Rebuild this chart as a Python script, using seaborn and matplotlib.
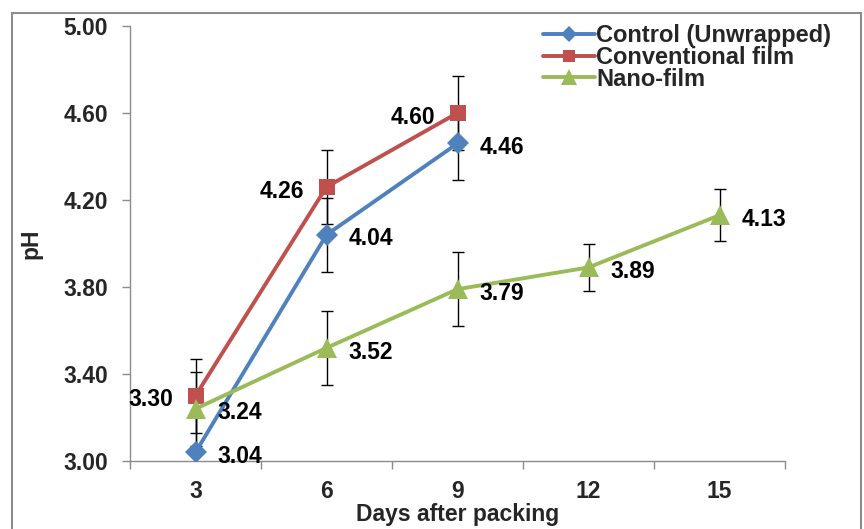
import numpy as np
import pandas as pd
import matplotlib
matplotlib.use("Agg")
import matplotlib.pyplot as plt
import seaborn as sns
from matplotlib.patches import Rectangle
from matplotlib.lines import Line2D

# data
DAYS = ["3", "6", "9", "12", "15"]
SERIES = ["Control (Unwrapped)", "Conventional film", "Nano-film"]
CONTROL = [3.04, 4.04, 4.46]
CONTROL_ERR = [0.17, 0.17, 0.17]
CONVENTIONAL = [3.30, 4.26, 4.60]
CONVENTIONAL_ERR = [0.17, 0.17, 0.17]
NANO = [3.24, 3.52, 3.79, 3.89, 4.13]
NANO_ERR = [0.17, 0.17, 0.17, 0.11, 0.12]

COLORS = {"Control (Unwrapped)": "#4F81BD",
          "Conventional film": "#C0504D",
          "Nano-film": "#9BBB59"}
MARKERS = {"Control (Unwrapped)": "D",
           "Conventional film": "s",
           "Nano-film": "^"}
MSIZE = {"Control (Unwrapped)": 11, "Conventional film": 12, "Nano-film": 14}
LABEL_SIDE = {"Control (Unwrapped)": ["r", "r", "r"],
              "Conventional film": ["l", "l", "l"],
              "Nano-film": ["r", "r", "r", "r", "r"]}
FS = 16.5

rows = []
for name, vals, errs in [(SERIES[0], CONTROL, CONTROL_ERR),
                         (SERIES[1], CONVENTIONAL, CONVENTIONAL_ERR),
                         (SERIES[2], NANO, NANO_ERR)]:
    for i, (v, e) in enumerate(zip(vals, errs)):
        rows.append({"series": name, "pos": i, "day": DAYS[i], "ph": v, "err": e})
df = pd.DataFrame(rows)

sns.set_style("white")
plt.rcParams["font.family"] = ["Liberation Sans", "DejaVu Sans"]
plt.rcParams["font.weight"] = "bold"

fig = plt.figure(figsize=(8.64, 5.29), dpi=100)
ax = fig.add_axes([130 / 864, 1 - 461 / 529, 655 / 864, 435 / 529])

# outer chart frame
fig.patches.append(Rectangle((12 / 864, -0.05), 849 / 864, 1.05 - 13 / 529,
                             transform=fig.transFigure, fill=False,
                             edgecolor="#8c8c8c", linewidth=1.5))

for name in SERIES:
    sub = df[df["series"] == name]
    ax.errorbar(sub["pos"], sub["ph"], yerr=sub["err"], fmt="none",
                ecolor="black", elinewidth=1, capsize=4.5, capthick=1, zorder=2)

sns.lineplot(data=df, x="pos", y="ph", hue="series", style="series",
             hue_order=SERIES, style_order=SERIES, palette=COLORS,
             markers=MARKERS, dashes=False, linewidth=2.8,
             markeredgewidth=0, ax=ax, zorder=3, legend=False)
for line, name in zip(ax.get_lines()[-3:], SERIES):
    line.set_markersize(MSIZE[name])

# data labels
for name in SERIES:
    sub = df[df["series"] == name].reset_index(drop=True)
    for i, r in sub.iterrows():
        side = LABEL_SIDE[name][i]
        dx = 16 if side == "r" else -16
        ha = "left" if side == "r" else "right"
        ax.annotate(f"{r['ph']:.2f}", (r["pos"], r["ph"]), xytext=(dx, -3),
                    textcoords="offset points", ha=ha, va="center",
                    fontsize=FS, fontweight="bold", color="black",
                    annotation_clip=False)

ax.set_xlim(-0.5, 4.5)
ax.set_ylim(3.0, 5.0)
ax.set_yticks(np.arange(3.0, 5.01, 0.4))
ax.set_yticklabels([f"{v:.2f}" for v in np.arange(3.0, 5.01, 0.4)])
ax.set_xticks(range(len(DAYS)))
ax.set_xticklabels(DAYS)
ax.set_xticks(np.arange(-0.5, 4.6, 1), minor=True)
ax.tick_params(axis="x", which="major", length=0, pad=14, labelsize=FS)
ax.tick_params(axis="x", which="minor", length=6, width=1, color="#8c8c8c",
               direction="out", bottom=True)
ax.tick_params(axis="y", length=6, width=1, color="#8c8c8c", direction="out",
               left=True, pad=10, labelsize=FS)
for lab in ax.get_xticklabels() + ax.get_yticklabels():
    lab.set_fontweight("bold")

ax.set_xlabel("Days after packing", fontsize=FS, fontweight="bold")
ax.set_ylabel("pH", fontsize=FS, fontweight="bold")
ax.xaxis.set_label_coords(0.5, -0.097)
ax.yaxis.set_label_coords(-0.133, 0.5)
for s in ["top", "right"]:
    ax.spines[s].set_visible(False)
for s in ["left", "bottom"]:
    ax.spines[s].set_color("#8c8c8c")
    ax.spines[s].set_linewidth(1)

# legend
handles = [Line2D([0], [0], color=COLORS[n], marker=MARKERS[n], linewidth=2.8,
                  markersize=MSIZE[n] - 3, markeredgewidth=0) for n in SERIES]
fig.legend(handles, SERIES, loc="upper left",
           bbox_to_anchor=(543 / 864, 1 - 24 / 529),
           frameon=False, prop={"weight": "bold", "size": 17},
           handlelength=2.2, handletextpad=0.05, labelspacing=-0.05,
           borderaxespad=0, borderpad=0)

fig.savefig("out.png", dpi=100)
